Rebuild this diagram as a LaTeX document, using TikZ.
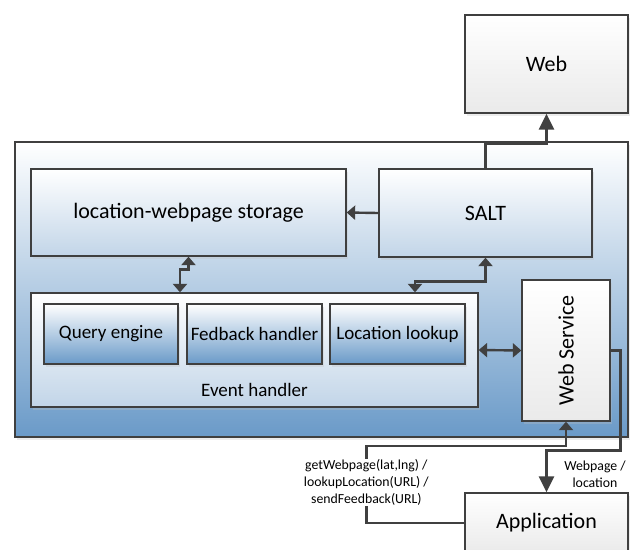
\documentclass[tikz,border=0pt]{standalone}
\usepackage{fontspec}
\usepackage{graphicx}
\setmainfont{Carlito}
\usetikzlibrary{arrows.meta,shadows}
\definecolor{edgec}{HTML}{3F3F3F}
\definecolor{connc}{HTML}{404040}
\definecolor{lblue}{HTML}{C2D5E8}
\definecolor{mblue}{HTML}{6A9AC8}
\definecolor{outmid}{HTML}{C9D8E7}
\definecolor{lgray}{HTML}{EAEAEA}
\begin{document}
\begin{tikzpicture}[x=1pt,y=-1pt,
  box/.style={draw=edgec, line width=1.3pt, inner sep=0pt, align=center,
    drop shadow={shadow xshift=2pt, shadow yshift=-2.5pt, fill=black!25, opacity=0.3}},
  big/.style={font=\fontsize{22}{26}\selectfont},
  mid/.style={font=\fontsize{19}{23}\selectfont},
  small/.style={font=\fontsize{13.8}{17}\selectfont},
  lightbox/.style={box, top color=white, bottom color=lblue},
  darkbox/.style={box, top color=white, bottom color=mblue},
  greybox/.style={box, top color=white, bottom color=lgray},
  link/.style={draw=connc, line width=2.4pt, -{Triangle[width=14pt,length=8.5pt]}},
  longlink/.style={draw=connc, line width=2.4pt, -{Triangle[width=15pt,length=16pt]}},
  dlink/.style={draw=connc, line width=2.4pt, {Triangle[width=14pt,length=8.5pt]}-{Triangle[width=14pt,length=8.5pt]}}
]
\clip (0,0) rectangle (632,549);
% outer container
\node[box, top color=white, middle color=outmid, bottom color=mblue,
      minimum width=613pt, minimum height=295pt] (outer) at (321.5,289.5) {};
% boxes
\node[greybox, big, minimum width=163pt, minimum height=98pt] (web) at (546.5,64) {Web};
\node[lightbox, big, minimum width=315pt, minimum height=87pt] (store) at (188.5,212.5) {location-webpage storage};
\node[lightbox, big, minimum width=213pt, minimum height=88pt] (salt) at (485.5,213) {SALT};
\node[lightbox, minimum width=447pt, minimum height=114pt] (evt) at (254.5,350) {};
\node[mid] (evtl) at (254.5,390) {Event handler};
\node[darkbox, mid, minimum width=134pt, minimum height=60pt] (query) at (111,334) {Query engine};
\node[darkbox, mid, minimum width=135pt, minimum height=60pt] (feed) at (254.5,334) {Fedback handler};
\node[darkbox, mid, minimum width=135pt, minimum height=60pt] (loc) at (397.5,334) {Location lookup};
\node[greybox, big, minimum width=88pt, minimum height=141pt] (ws) at (566,350.5) {\rotatebox{90}{Web Service}};
\node[greybox, big, minimum width=163pt, minimum height=60pt] (app) at (546.5,523) {Application};
% connectors
\draw[longlink] (salt.north) -- ++(0,-25) -| (web.south);
\draw[link] (salt.west) -- (store.east);
\draw[dlink] (store.south) -- ++(0,13) -- ++(-8.5,0) -- (evt.north -| 180,0);
\draw[dlink] (salt.south) -- ++(0,24) -| (evt.north -| 415,0);
\draw[dlink] (evt.east) -- (ws.west);
\draw[longlink] (ws.east) -- ++(10,0) -- ++(0,100) -| (app.north);
\draw[link] (app.west) -- ++(-98,0)
   -- node[small, fill=white, align=center, inner sep=0.5pt, pos=0.53]
      {getWebpage(lat,lng) /\\lookupLocation(URL) /\\sendFeedback(URL)} ++(0,-77)
   -| (ws.south);
\node[small, align=center] (wl) at (595,474) {Webpage /\\location};
\end{tikzpicture}
\end{document}
